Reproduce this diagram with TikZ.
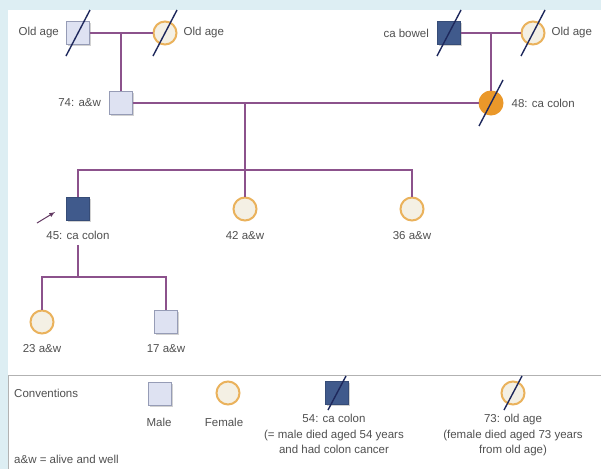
\documentclass[tikz,border=0pt]{standalone}
\usepackage{fontspec}
\setmainfont{Liberation Sans}
\usetikzlibrary{arrows,positioning,shadows}

\definecolor{bgblue}{RGB}{221,238,243}
\definecolor{relpurple}{RGB}{140,82,140}
\definecolor{malefill}{RGB}{222,226,242}
\definecolor{maleedge}{RGB}{150,156,182}
\definecolor{femfill}{RGB}{244,240,228}
\definecolor{femedge}{RGB}{234,178,92}
\definecolor{affblue}{RGB}{64,90,140}
\definecolor{afforange}{RGB}{234,152,42}
\definecolor{slashblue}{RGB}{30,40,92}
\definecolor{txtgray}{RGB}{80,80,80}

\tikzset{
    rel/.style={line width=1.5pt, color=relpurple},
    male/.style={rectangle, minimum size=23pt, inner sep=0pt, draw=maleedge, fill=malefill, line width=0.8pt,
        drop shadow={shadow xshift=1.2pt, shadow yshift=-1.2pt, fill=black!35}},
    female/.style={circle, minimum size=23pt, inner sep=0pt, draw=femedge, fill=femfill, line width=2pt},
    affm/.style={male, fill=affblue, draw=affblue!85!black},
    afff/.style={female, fill=afforange, draw=afforange},
    txt/.style={text=txtgray, font=\fontsize{11.5}{15.5}\selectfont, inner sep=1pt},
    slash/.style={line width=1.4pt, color=slashblue},
    parrow/.style={-latex, line width=1pt, color=relpurple!70!black},
}

\begin{document}
\begin{tikzpicture}[x=1pt, y=-1pt]
        \useasboundingbox (0,0) rectangle (601,469);
        \fill[bgblue] (0,0) rectangle (601,469);
        \fill[white] (8,10) rectangle (601,469);
        \draw[gray!60, line width=1pt] (601,375) -- (8,375) -- (8,469);

        \node[male] (gfa) at (78,33) {};
        \node[female] (gma) at (165,33) {};
        \node[affm] (gfb) at (449,33) {};
        \node[female] (gmb) at (533,33) {};
        \node[male] (fa) at (121,103) {};
        \node[afff] (mo) at (491,103) {};
        \node[affm] (pro) at (78,209) {};
        \node[female] (s1) at (245,209) {};
        \node[female] (s2) at (412,209) {};
        \node[female] (d1) at (42,322) {};
        \node[male] (d2) at (166,322) {};

        \node[txt, left=6pt of gfa] (gfaL) {Old age};
        \node[txt, right=5pt of gma] (gmaL) {Old age};
        \node[txt, left=7pt of gfb] (gfbL) {ca bowel};
        \node[txt, right=5pt of gmb] (gmbL) {Old age};
        \node[txt, left=7pt of fa] (faL) {74: a\&w};
        \node[txt, right=7pt of mo] (moL) {48: ca colon};
        \node[txt, below=9pt of pro] (proL) {45: ca colon};
        \node[txt, below=9pt of s1] (s1L) {42 a\&w};
        \node[txt, below=9pt of s2] (s2L) {36 a\&w};
        \node[txt, below=9pt of d1] (d1L) {23 a\&w};
        \node[txt, below=9pt of d2] (d2L) {17 a\&w};

        \draw[rel] (gfa) -- (gma);
        \draw[rel] (gfb) -- (gmb);
        \draw[rel] (fa) -- (fa |- gfa);
        \draw[rel] (mo) -- (mo |- gfb);
        \draw[rel] (fa) -- (mo);

        \coordinate (sib) at (245,170);
        \draw[rel] (sib) -- (sib |- fa);
        \draw[rel] (pro) -- (pro |- sib) -- (s2 |- sib) -- (s2);
        \draw[rel] (s1) -- (s1 |- sib);

        \coordinate (sib2) at (78,277);
        \draw[rel, shorten <=4pt] (proL) -- (sib2);
        \draw[rel] (d1) -- (d1 |- sib2) -- (d2 |- sib2) -- (d2);

        \coordinate (arr) at (37,223);
        \draw[parrow] (arr) -- ([shift={(-11,3)}]pro.west);

        \node[txt, anchor=west] (conv) at (13,393) {Conventions};
        \node[male] (cm) at (160,394) {};
        \node[female] (cf) at (228,393) {};
        \node[txt] (cmL) at (159,422) {Male};
        \node[txt] (cfL) at (224,422) {Female};
        \node[affm] (cd) at (337,393) {};
        \node[female] (cfd) at (513,393) {};
        \node[txt, align=center, anchor=north] (cdL) at (334,413) {54: ca colon\\(= male died aged 54 years\\and had colon cancer};
        \node[txt, align=center, anchor=north] (cfdL) at (513,413) {73: old age\\(female died aged 73 years\\from old age)};
        \node[txt, anchor=west] (awL) at (13,459) {a\&w = alive and well};

        \foreach \n in {gfa,gma,gfb,gmb,mo} {
            \draw[slash] ([shift={(-12,23)}]\n.center) -- ([shift={(12,-23)}]\n.center);
        }
        \foreach \n in {cd,cfd} {
            \draw[slash] ([shift={(-9,17)}]\n.center) -- ([shift={(9,-17)}]\n.center);
        }
\end{tikzpicture}
\end{document}
